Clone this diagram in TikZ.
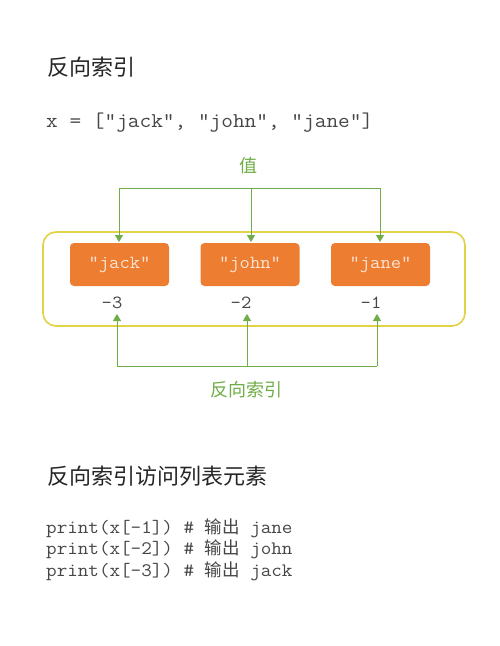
\documentclass[tikz,border=0pt]{standalone}
\usepackage{fontspec}
\setmainfont{Liberation Sans}
\setmonofont[FakeStretch=1.08]{Latin Modern Mono}
\newfontfamily\cjk{Noto Sans CJK SC}
\usetikzlibrary{arrows.meta}
\definecolor{grn}{RGB}{112,173,71}
\definecolor{org}{RGB}{237,125,49}
\definecolor{ylw}{RGB}{225,210,70}
\definecolor{txt}{RGB}{70,70,70}
\definecolor{peach}{RGB}{252,228,212}
\tikzset{
  title/.style={anchor=base west,inner sep=0,font=\cjk\fontsize{22}{26}\selectfont,text=black!85},
  code/.style={anchor=base west,inner sep=0,font=\ttfamily\fontsize{19}{22}\selectfont,text=txt},
  valbox/.style={fill=org,rounded corners=4pt,minimum width=99pt,minimum height=43pt,inner sep=0,
     font=\ttfamily\fontsize{18.5}{20}\selectfont,text=peach},
  idx/.style={anchor=base,inner sep=0,font=\ttfamily\fontsize{18.5}{20}\selectfont,text=txt},
  glabel/.style={anchor=base,inner sep=0,font=\cjk\fontsize{18}{21}\selectfont,text=grn},
  conn/.style={grn,line width=0.9pt},
  arr/.style={conn,-{Triangle[width=8pt,length=7pt]}}
}
\newcommand{\cjkcode}[1]{{\cjk\fontsize{17.5}{21}\selectfont #1}}
\begin{document}
\begin{tikzpicture}[x=1pt,y=-1pt]
\useasboundingbox[fill=white] (0,0) rectangle (500,646);
\node[title] (t1) at (47,75.5) {反向索引};
\node[code,font=\ttfamily\fontsize{21}{24}\selectfont] (c0) at (46,127) {x = ["jack", "john", "jane"]};
% frame
\draw[ylw,line width=1.6pt,rounded corners=13pt] (43,232) rectangle (465,326);
\node[valbox] (b1) at (119.5,264.5) {"jack"};
\node[valbox] (b2) at (250,264.5) {"john"};
\node[valbox] (b3) at (380.5,264.5) {"jane"};
\node[idx] (n1) at (112,308) {-3};
\node[idx] (n2) at (241,308) {-2};
\node[idx] (n3) at (371,308) {-1};
% top connectors
\node[glabel] (val) at (248,172) {值};
\coordinate (ta) at (119,188);
\coordinate (tb) at (251,188);
\coordinate (tc) at (380,188);
\coordinate (ea) at (119,242);
\coordinate (eb) at (251,242);
\coordinate (ec) at (380,242);
\draw[conn] (ta) -- (tc);
\draw[arr] (ta) -- (ea);
\draw[arr] (tb) -- (eb);
\draw[arr] (tc) -- (ec);
% bottom connectors
\coordinate (ba) at (117,366);
\coordinate (bb) at (247,366);
\coordinate (bc) at (377,366);
\coordinate (ua) at (117,314);
\coordinate (ub) at (247,314);
\coordinate (uc) at (377,314);
\draw[conn] (ba) -- (bc);
\draw[arr] (ba) -- (ua);
\draw[arr] (bb) -- (ub);
\draw[arr] (bc) -- (uc);
\node[glabel] (rev) at (246,396) {反向索引};
% second section
\node[title] (t2) at (47,484) {反向索引访问列表元素};
\node[code] (p1) at (46,533) {print(x[-1]) \# \cjkcode{输出} jane};
\node[code] (p2) at (46,554.5) {print(x[-2]) \# \cjkcode{输出} john};
\node[code] (p3) at (46,576) {print(x[-3]) \# \cjkcode{输出} jack};
\end{tikzpicture}
\end{document}
